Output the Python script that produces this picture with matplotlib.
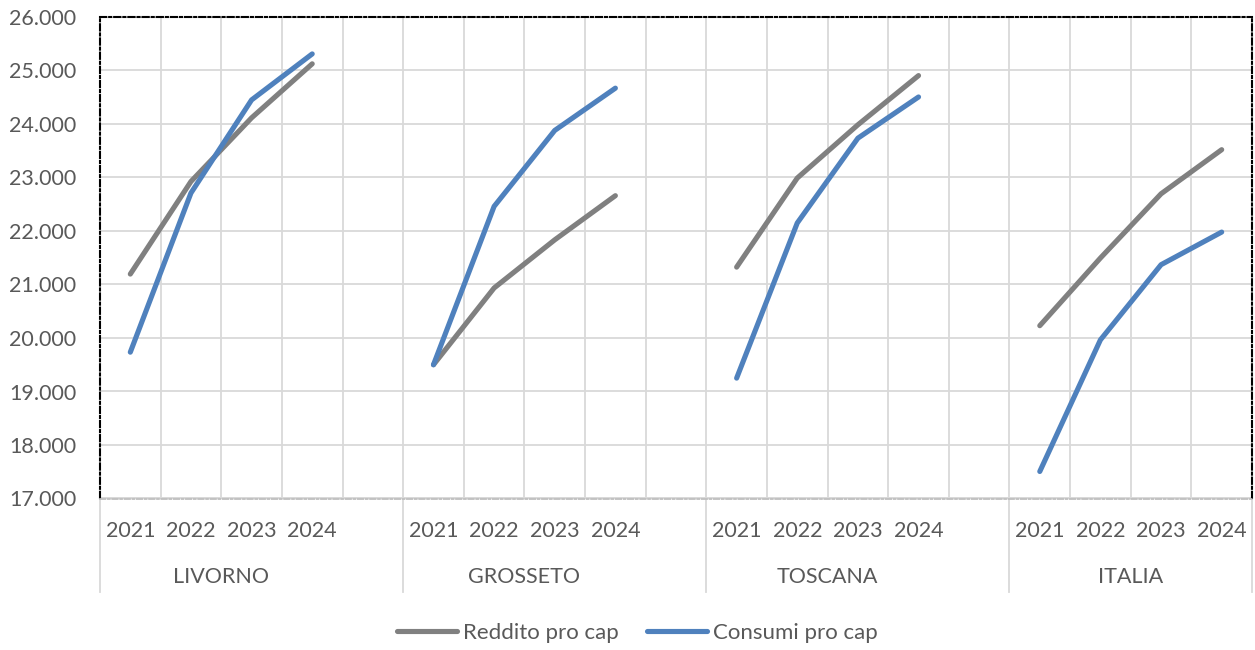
import matplotlib
matplotlib.use('Agg')
import matplotlib.pyplot as plt
import matplotlib.transforms as mtransforms
from matplotlib.ticker import FuncFormatter, MultipleLocator
import numpy as np

# --- DATA ---
groups = ['LIVORNO', 'GROSSETO', 'TOSCANA', 'ITALIA']
years = ['2021', '2022', '2023', '2024']
reddito = [
    [21195, 22925, 24115, 25125],   # Livorno
    [19500, 20935, 21835, 22660],   # Grosseto
    [21325, 22990, 23985, 24905],   # Toscana
    [20230, 21495, 22695, 23520],   # Italia
]
consumi = [
    [19735, 22710, 24450, 25310],
    [19500, 22460, 23880, 24670],
    [19250, 22150, 23735, 24505],
    [17505, 19965, 21370, 21980],
]

GREY = '#808080'
BLUE = '#4F81BD'
GRID = '#d9d9d9'
TXT = '#595959'
FONT = 'Lato'
FS = 15.5

plt.rcParams['font.family'] = [FONT, 'DejaVu Sans']

fig = plt.figure(figsize=(12.55, 6.5), dpi=100)
ax = fig.add_axes([100 / 1255, (650 - 498.5) / 650, 1152 / 1255, 481.5 / 650])

# category slots: 4 years per group + one blank slot between groups
slot = len(years) + 1
n_slots = slot * len(groups) - 1
xpos = []
xlabels = []
for g, name in enumerate(groups):
    xs = np.arange(len(years)) + g * slot
    ax.plot(xs, reddito[g], color=GREY, lw=3.7, solid_capstyle='round',
            solid_joinstyle='round', label='Reddito pro cap' if g == 0 else None, zorder=3)
    ax.plot(xs, consumi[g], color=BLUE, lw=3.7, solid_capstyle='round',
            solid_joinstyle='round', label='Consumi pro cap' if g == 0 else None, zorder=3)
    xpos.extend(xs)
    xlabels.extend(years)

ax.set_xlim(-0.5, n_slots - 0.5)
ax.set_ylim(17000, 26000)

# gridlines
ax.yaxis.set_major_locator(MultipleLocator(1000))
ax.grid(axis='y', color=GRID, lw=1.3, zorder=0)
for b in np.arange(0.5, n_slots - 0.5, 1.0):
    ax.axvline(b, color=GRID, lw=1.3, zorder=0)

ax.yaxis.set_major_formatter(FuncFormatter(lambda v, p: f'{v:,.0f}'.replace(',', '.')))
ax.tick_params(axis='y', length=0, pad=17, labelsize=FS, labelcolor=TXT)
ax.set_xticks(xpos, xlabels)
ax.tick_params(axis='x', length=0, pad=16, labelsize=FS, labelcolor=TXT)

# plot area border (dash-dot)
dashdot = (0, (3, 1.4, 1, 1.4))
for side in ['top', 'left', 'right']:
    ax.spines[side].set_color('black')
    ax.spines[side].set_linewidth(1.5)
    ax.spines[side].set_linestyle(dashdot)
ax.spines['bottom'].set_color('#bfbfbf')
ax.spines['bottom'].set_linewidth(1.3)
ax.spines['bottom'].set_linestyle(dashdot)
ax.axhline(17000, color=GRID, lw=1.3, zorder=0)

# multi-level category axis: group names and separators
trans = mtransforms.blended_transform_factory(ax.transData, ax.transAxes)
bottom_sep = -(592 - 498.5) / 481.5
bounds = [-0.5] + [g * slot + len(years) + 0.5 for g in range(len(groups) - 1)] + [n_slots - 0.5]
for b in bounds:
    ax.plot([b, b], [0, bottom_sep], transform=trans, color=GRID, lw=1.3, clip_on=False)
for g, name in enumerate(groups):
    cx = g * slot + (len(years) - 1) / 2
    ax.text(cx, -(577 - 498.5) / 481.5, name, transform=trans, ha='center', va='center',
            fontsize=FS, color=TXT)

leg = fig.legend(loc='center', bbox_to_anchor=(0.508, 1 - 633 / 650), ncol=2, frameon=False,
                 fontsize=16, labelcolor=TXT, handlelength=2.7, handletextpad=0.25,
                 columnspacing=1.3)

fig.savefig('out.png', dpi=100)
